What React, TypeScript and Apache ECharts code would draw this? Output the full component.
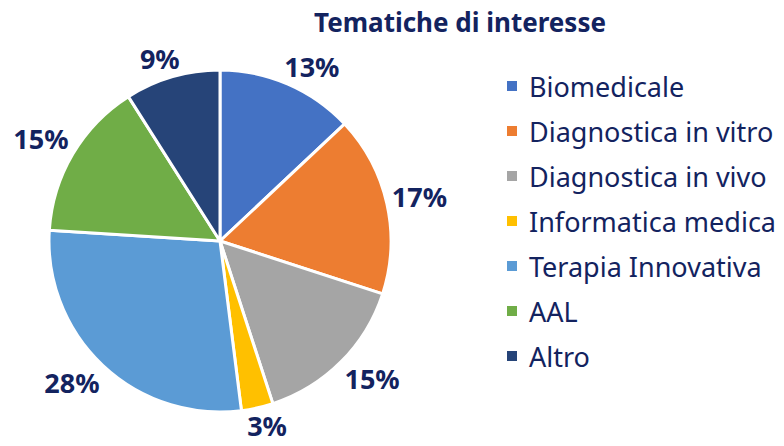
import React, { useEffect, useRef } from "react";
import * as echarts from "echarts";

const categories = [
  "Biomedicale",
  "Diagnostica in vitro",
  "Diagnostica in vivo",
  "Informatica medica",
  "Terapia Innovativa",
  "AAL",
  "Altro",
];
const values = [13, 17, 15, 3, 28, 15, 9];
const colors = ["#4472C4", "#ED7D31", "#A5A5A5", "#FFC000", "#5B9BD5", "#70AD47", "#264478"];
const titleText = "Tematiche di interesse";
const navy = "#13235F";

const CX = 220;
const CY = 241;
const R = 171;

const clamp = (v: number) => Math.max(-1, Math.min(1, v));

export default function App() {
  const ref = useRef<HTMLDivElement>(null);
  useEffect(() => {
    document.body.style.margin = "0";
    if (!ref.current) return;
    const chart = echarts.init(ref.current, undefined, { renderer: "svg" });
    const total = values.reduce((a, b) => a + b, 0);
    const midAngles: number[] = [];
    let acc = 0;
    values.forEach((v) => {
      midAngles.push(((acc + v / 2) / total) * Math.PI * 2);
      acc += v;
    });
    chart.setOption({
      animation: false,
      color: colors,
      title: {
        text: titleText,
        left: 455,
        textAlign: "center",
        top: 4,
        textStyle: { fontFamily: "Noto Sans", fontSize: 26, fontWeight: "bold", color: navy },
      },
      legend: {
        orient: "vertical",
        left: 500,
        top: 66,
        itemWidth: 12,
        itemHeight: 12,
        itemGap: 15,
        icon: "rect",
        textStyle: { fontFamily: "Noto Sans", fontSize: 27, color: navy, lineHeight: 30, padding: [0, 0, 0, 6] },
        data: categories,
      },
      series: [
        {
          type: "pie",
          center: [CX, CY],
          radius: [0, R],
          startAngle: 90,
          clockwise: true,
          bleedMargin: 0,
          itemStyle: { borderColor: "#ffffff", borderWidth: 3 },
          label: {
            show: true,
            position: "outside",
            formatter: "{c}%",
            fontFamily: "Noto Sans",
            fontSize: 27,
            fontWeight: "bold",
            color: navy,
            overflow: "none",
          },
          labelLine: { show: false, length: 0, length2: 0 },
          labelLayout: (params: any) => {
            const a = midAngles[params.dataIndex];
            const ux = Math.sin(a);
            const uy = -Math.cos(a);
            const w = params.labelRect.width;
            const h = 26;
            const g = 5;
            return {
              x: CX + ux * (R + g) + clamp(ux * 2) * w / 2,
              y: CY + uy * (R + g) + clamp(uy * 2) * h / 2,
              align: "center",
              verticalAlign: "middle",
            };
          },
          data: categories.map((name, i) => ({ name, value: values[i] })),
        },
      ],
    });
    return () => chart.dispose();
  }, []);
  return <div ref={ref} style={{ width: 784, height: 446 }} />;
}
